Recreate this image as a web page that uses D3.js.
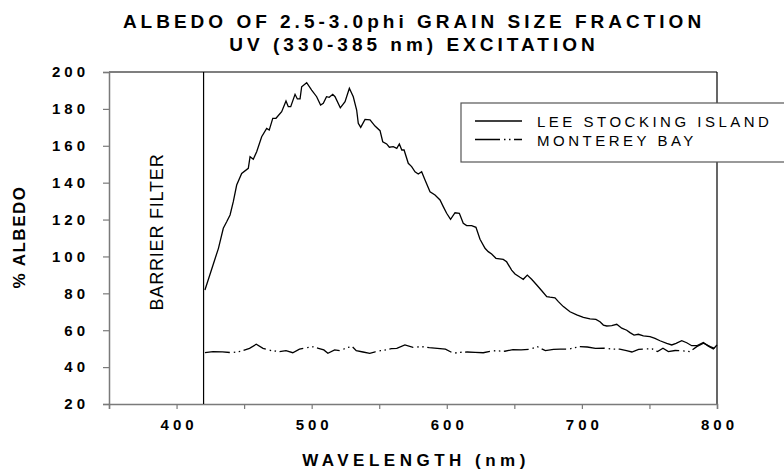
<!DOCTYPE html>
<html><head><meta charset="utf-8">
<script src="https://cdn.jsdelivr.net/npm/d3@7"></script>
<style>
html,body{margin:0;padding:0;background:#fff;}
svg{display:block;}
text{font-family:"Liberation Sans",Arial,sans-serif;fill:#000;}
</style></head>
<body>
<svg id="chart" width="784" height="470"></svg>
<script>
// ---- data ----
const titleLines = ["ALBEDO OF 2.5-3.0phi GRAIN SIZE FRACTION", "UV (330-385 nm) EXCITATION"];
const xTicks = [350, 400, 450, 500, 550, 600, 650, 700, 750, 800];
const xTickLabels = ["", "400", "", "500", "", "600", "", "700", "", "800"];
const yTicks = [20, 40, 60, 80, 100, 120, 140, 160, 180, 200];
const seriesNames = ["LEE STOCKING ISLAND", "MONTEREY BAY"];
const barrierWavelength = 420;

const leeWavelength = [421,427,431,434.6,437.1,439.6,442,444.5,448.2,453.1,454.4,456.8,459.3,463,466.7,468.6,471.2,473.6,477.8,481,482.7,484.5,487.7,489.4,491.4,492.6,496.3,500,503.7,506.6,508.6,511,513,515.6,517.3,521.2,524.7,527.9,530.8,533.3,534.5,536.3,539.5,543.2,546.9,550.6,552.6,555.5,557.5,560.4,563,564.9,566.7,568.4,571.5,574,576.5,578.9,581.4,583.9,587.6,591.3,595,597.4,599.9,602.8,606.1,609.3,612.2,614.7,618.4,621.6,624.6,628.3,630.7,633.2,636.4,641.8,644.3,648,650.5,654.2,656.6,659.6,662.8,666.6,670.3,674,676.4,680.1,682.6,686.3,691.2,696.2,701.1,706,710.4,713.4,715.9,718.4,722.1,725.8,729.5,733.2,735.6,738.6,741.8,745.5,750.4,754.1,757.8,762.8,766.5,769.7,773.9,777.6,781.3,785,789.9,793.6,797.3,800];
const leeAlbedo = [81.8,95.4,104.4,115.3,118.8,122.5,129.7,138.7,145,147.8,154.1,152.7,156.8,164.9,169.4,168.5,174.9,174.9,178.5,184.3,181.2,181.2,187.9,185.4,185.4,192,194.2,190.2,186.6,182.1,183,186.6,186.3,187.9,186.6,180.6,183.9,191.2,186.6,179.4,172.2,170,174.3,174,170.7,168.2,162.2,161,159.2,159.5,158.6,161,157.7,157.7,150.5,148.7,145.9,144.7,145.9,141.4,135.1,133.3,130.6,127,123.4,120.1,123.7,123.4,118,116.7,116.7,115.8,109.3,104.4,102.6,101.3,99,98.4,97.1,92.6,90.5,88.7,87.6,89.9,87.6,84.5,81.4,78.2,77.9,77.6,75.5,72.8,70,68.3,67,66.1,65.9,64.6,62.8,62.3,62.5,63.2,61.1,60,58.7,57.4,57.8,56.9,56.5,55.6,54.3,52.9,52,52.9,54.3,53.2,51.6,51.6,53.4,51.4,49.8,52];

const montereyWavelength = [421,427,434,441,448,454,459,464,470,476,481,486,491,496,501,505,509,512,517,521,526,530,533,538,543,547,551,556,559,563,569,575,581,587,593,599,605,609,615,621,627,634,643,649,655,661,667,673,679,684,690,698,704,710,716,722,728,733,737,742,747,752,756,760,764,769,775,780,785,790,795,800];
const montereyAlbedo = [47.8,48.4,48.3,47.8,48.6,50.2,52.4,50.2,49.0,48.4,48.9,47.8,49.7,50.5,51.0,50.2,49.3,47.5,49.3,48.9,50.5,51.2,48.9,48.2,47.5,48.3,48.9,49.5,50.0,50.2,52.0,50.7,51.1,50.6,50.2,49.7,47.5,48.0,48.2,48.0,47.8,48.9,48.6,49.5,49.3,49.6,51.1,48.9,49.6,49.8,49.7,51.1,50.9,50.2,50.3,49.8,49.7,48.9,48.2,49.6,49.9,49.9,48.4,50.2,48.4,49.0,48.8,48.4,51.1,53.0,51.1,49.7];

// ---- layout ----
const svg = d3.select("#chart");
const L = 109, R = 717, T = 72, B = 404;
const font = '"Liberation Sans", Arial, sans-serif';
const x = d3.scaleLinear().domain([350, 800]).range([L, R]);
const y = d3.scaleLinear().domain([20, 200]).range([B, T]);
const axisColor = "#7a7a7a";
const dashDot = "25,4,1.5,3.5,1.5,3.5";

// title
svg.append("g").selectAll("text").data(titleLines).join("text")
  .attr("x", 414).attr("y", (d, i) => 28 + i * 23)
  .attr("text-anchor", "middle")
  .style("font-size", "19px").style("font-weight", "bold").style("letter-spacing", "4px")
  .text(d => d);

// frame top/right
svg.append("line").attr("x1", L).attr("x2", R).attr("y1", T).attr("y2", T).attr("stroke", "#000").attr("stroke-width", 1.2);
svg.append("line").attr("x1", R).attr("x2", R).attr("y1", T).attr("y2", B).attr("stroke", "#000").attr("stroke-width", 1.2);

// y axis
const gy = svg.append("g").attr("transform", `translate(${L},0)`)
  .call(d3.axisLeft(y).tickValues(yTicks).tickSize(6).tickPadding(14).tickFormat(d3.format("d")));
gy.select(".domain").attr("stroke", axisColor).attr("stroke-width", 1.5);
gy.selectAll(".tick line").attr("stroke", axisColor).attr("stroke-width", 1.2);
gy.selectAll(".tick text").style("font-family", font).style("font-size", "15px").style("font-weight", "bold")
  .style("letter-spacing", "4px").attr("fill", "#000");

// x axis
const gx = svg.append("g").attr("transform", `translate(0,${B})`)
  .call(d3.axisBottom(x).tickValues(xTicks).tickSize(5).tickPadding(10).tickFormat((d, i) => xTickLabels[i]));
gx.select(".domain").attr("stroke", axisColor).attr("stroke-width", 1.5);
gx.selectAll(".tick line").attr("stroke", axisColor).attr("stroke-width", 1.2);
gx.selectAll(".tick text").style("font-family", font).style("font-size", "15px").style("font-weight", "bold")
  .style("letter-spacing", "4px").attr("fill", "#000").attr("dx", "2px");

// axis titles
svg.append("text").attr("x", 416).attr("y", 466).attr("text-anchor", "middle")
  .style("font-size", "17px").style("font-weight", "bold").style("letter-spacing", "4.5px")
  .text("WAVELENGTH (nm)");
svg.append("text").attr("transform", "translate(25,237) rotate(-90)").attr("text-anchor", "middle")
  .style("font-size", "17px").style("font-weight", "bold").style("letter-spacing", "1.5px")
  .text("% ALBEDO");

// barrier
svg.append("line").attr("x1", x(barrierWavelength)).attr("x2", x(barrierWavelength))
  .attr("y1", T).attr("y2", B).attr("stroke", "#000").attr("stroke-width", 1.2);
svg.append("text").attr("transform", "translate(163,232) rotate(-90)").attr("text-anchor", "middle")
  .style("font-size", "18px").style("letter-spacing", "0.8px")
  .text("BARRIER FILTER");

// series
const line = d3.line().x(d => x(d[0])).y(d => y(d[1]));
const lee = leeWavelength.map((w, i) => [w, leeAlbedo[i]]);
const mon = montereyWavelength.map((w, i) => [w, montereyAlbedo[i]]);
svg.append("path").datum(mon).attr("d", line).attr("fill", "none")
  .attr("stroke", "#000").attr("stroke-width", 1.3).attr("stroke-dasharray", dashDot);
svg.append("path").datum(lee).attr("d", line).attr("fill", "none")
  .attr("stroke", "#000").attr("stroke-width", 1.3);

// legend
const lg = svg.append("g");
lg.append("rect").attr("x", 461).attr("y", 103).attr("width", 340).attr("height", 59)
  .attr("fill", "#fff").attr("stroke", "#555").attr("stroke-width", 1.2);
const legY = [121, 139.5];
lg.selectAll("line.s").data(seriesNames).join("line").attr("class", "s")
  .attr("x1", 475).attr("x2", 522).attr("y1", (d, i) => legY[i]).attr("y2", (d, i) => legY[i])
  .attr("stroke", "#000").attr("stroke-width", 1.3)
  .attr("stroke-dasharray", (d, i) => i === 1 ? dashDot : null);
lg.selectAll("text").data(seriesNames).join("text")
  .attr("x", 537).attr("y", (d, i) => legY[i] + 6)
  .style("font-size", "15px").style("letter-spacing", "3.5px")
  .text(d => d);
</script>
</body></html>
